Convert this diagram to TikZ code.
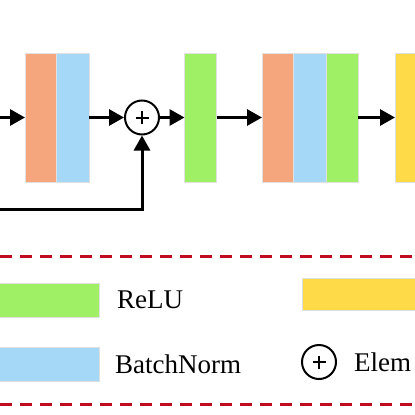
\documentclass[tikz,border=0pt]{standalone}
\usepackage{fontspec}
\setmainfont{Liberation Serif}
\usetikzlibrary{positioning,arrows.meta}
\definecolor{convc}{RGB}{246,166,124}
\definecolor{bnc}{RGB}{164,216,246}
\definecolor{reluc}{RGB}{160,240,102}
\definecolor{poolc}{RGB}{255,218,72}
\definecolor{sepc}{RGB}{192,12,32}
\begin{document}
\begin{tikzpicture}[x=1pt, y=-1pt, node distance=0pt,
  layer/.style = {inner sep=0pt, outer sep=0pt, minimum height=129pt, draw=black!12, line width=0.6pt},
  conv/.style = {layer, fill=convc, minimum width=31pt},
  bn/.style = {layer, fill=bnc, minimum width=33pt},
  relu/.style = {layer, fill=reluc, minimum width=32pt},
  pool/.style = {layer, fill=poolc, minimum width=35pt},
  addop/.style = {draw, circle, line width=2pt, minimum size=34pt, inner sep=0pt,
    path picture={\draw[line width=2pt]
      ([xshift=-6.5pt]path picture bounding box.center) -- ([xshift=6.5pt]path picture bounding box.center)
      ([yshift=-6.5pt]path picture bounding box.center) -- ([yshift=6.5pt]path picture bounding box.center);}},
  flow/.style = {line width=3pt, -{Triangle[length=15pt,width=16pt]}},
  sep/.style = {draw=sepc, line width=3pt, dash pattern=on 12pt off 8pt},
  legtext/.style = {inner sep=0pt, anchor=west, font=\fontsize{27}{30}\selectfont}]
	\clip (0,0) rectangle (415,415);
	% block row
	\node[conv] (c1) at (40.5,117.5) {};
	\node[bn] (n1) [right=of c1] {};
	\node[addop] (add) at (142,117.5) {};
	\node[relu] (r1) at (200.5,117.5) {};
	\node[conv] (c2) at (277.5,117.5) {};
	\node[bn] (n2) [right=of c2] {};
	\node[relu] (r2) [right=of n2] {};
	\node[pool] (p1) at (412.5,117.5) {};
	\coordinate (in) at (-2,117.5);
	\coordinate (skip) at (-2,209);
	\draw[flow] (in) -- (c1);
	\draw[flow] (n1) -- (add);
	\draw[flow] (add) -- (r1);
	\draw[flow] (r1) -- (c2);
	\draw[flow] (r2) -- (p1);
	\draw[flow] (skip) -| (add.south);
	% legend
	\draw[sep] (0,256) -- (415,256);
	\draw[sep] (0,404) -- (415,404);
	\node[relu, minimum width=110pt, minimum height=34pt] (lr) at (44,300) {};
	\node[legtext] (tr) [right=18pt of lr] {ReLU};
	\node[bn, minimum width=110pt, minimum height=34pt] (lb) at (44,364) {};
	\node[legtext] (tb) [right=16pt of lb] {BatchNorm};
	\node[pool, minimum width=130pt, minimum height=32pt] (lp) at (367,294) {};
	\node[addop] (la) at (319,362) {};
	\node[legtext] (ta) [right=17pt of la] {Elem};
\end{tikzpicture}
\end{document}
